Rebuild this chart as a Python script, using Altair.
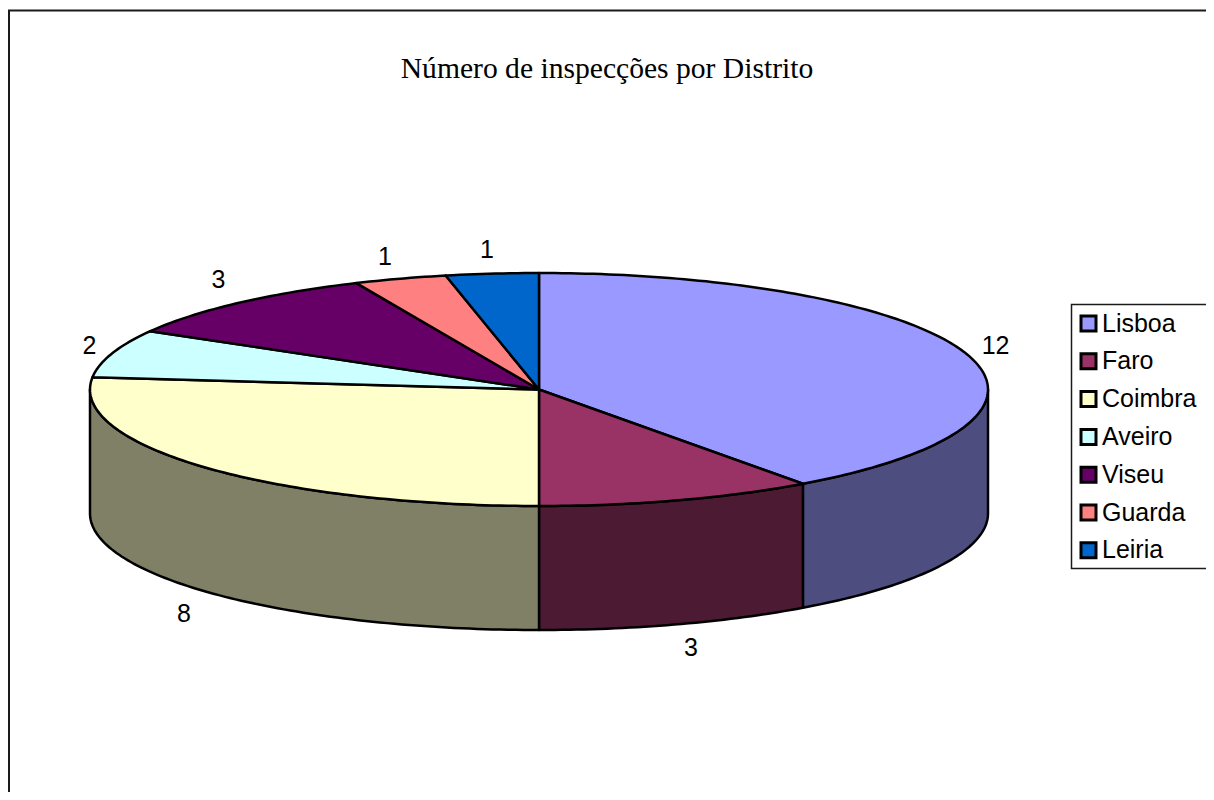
import math
import altair as alt
import pandas as pd

# ---- data ----
districts = ["Lisboa", "Faro", "Coimbra", "Aveiro", "Viseu", "Guarda", "Leiria"]
inspections = [12, 3, 8, 2, 3, 1, 1]
top_colors = ["#9999FF", "#993366", "#FFFFCC", "#CCFFFF", "#660066", "#FF8080", "#0066CC"]
side_colors = ["#4D4D80", "#4D1A33", "#808066", "#668080", "#330033", "#804040", "#003366"]
title_text = "Número de inspecções por Distrito"

# ---- layout of the tilted pie, in page pixels ----
W, H = 1198, 784
CX, CY, RX, RY, DEPTH = 539, 389.5, 449, 116.5, 124
FONT = "Liberation Sans"
NUDGE_X = [1, 4, 1, 6, 0, -6, -2]
NUDGE_Y = [0, 0, 6, 0, -4, 2, 1]


def pt(deg, drop=0.0):
    a = math.radians(deg)
    return CX + RX * math.sin(a), CY - RY * math.cos(a) + drop


total = sum(inspections)
top_rows, side_rows, label_rows = [], [], []
start = 0.0
for j, (name, v, tc, sc) in enumerate(zip(districts, inspections, top_colors, side_colors)):
    end = start + 360.0 * v / total
    # top wedge
    n = max(2, int(end - start) + 1)
    idx = 0
    top_rows.append({"d": name, "x": CX, "y": CY, "i": idx})
    for k in range(n + 1):
        idx += 1
        x, y = pt(start + (end - start) * k / n)
        top_rows.append({"d": name, "x": x, "y": y, "i": idx})
    # visible wall
    s2, e2 = max(start, 90.0), min(end, 270.0)
    if e2 > s2:
        m = max(2, int(e2 - s2) + 1)
        arc = [s2 + (e2 - s2) * k / m for k in range(m + 1)]
        idx = 0
        for a in arc:
            x, y = pt(a)
            side_rows.append({"d": name, "c": sc, "x": x, "y": y, "i": idx})
            idx += 1
        for a in reversed(arc):
            x, y = pt(a, DEPTH)
            side_rows.append({"d": name, "c": sc, "x": x, "y": y, "i": idx})
            idx += 1
    # value label, just outside the rim at the slice's middle angle
    mid = (start + end) / 2
    lx, ly = pt(mid, DEPTH if 90 < mid < 270 else 0)
    a = math.radians(mid)
    label_rows.append({
        "x": lx + 30 * math.sin(a) + NUDGE_X[j],
        "y": ly - 25 * math.cos(a) + NUDGE_Y[j],
        "t": str(v),
    })
    start = end

xs = alt.Scale(domain=[8, 8 + W], nice=False, zero=False)
ys = alt.Scale(domain=[8 + H, 8], nice=False, zero=False)
X = alt.X("x:Q", scale=xs, axis=None)
Y = alt.Y("y:Q", scale=ys, axis=None)

frame_rows = pd.DataFrame([
    {"x": 8, "y": 10.5, "x2": 1230, "y2": 10.5},
    {"x": 9, "y": 10.5, "x2": 9, "y2": 815},
])
frame = alt.Chart(frame_rows).mark_rule(color="#1a1a1a", strokeWidth=2, clip=False).encode(
    x=X, y=Y, x2="x2:Q", y2="y2:Q"
)

legend_box = alt.Chart(pd.DataFrame([{"x": 1071.5, "x2": 1240, "y": 304.5, "y2": 568.5}])).mark_rect(
    fill="white", stroke="#1a1a1a", strokeWidth=1.5
).encode(x=X, x2="x2:Q", y=Y, y2="y2:Q")

sides = alt.Chart(pd.DataFrame(side_rows)).mark_line(
    interpolate="linear-closed", stroke="black", strokeWidth=2.5, strokeJoin="round"
).encode(
    x=X, y=Y, order="i:Q", detail="d:N",
    fill=alt.Fill("c:N", scale=None, legend=None),
)

tops = alt.Chart(pd.DataFrame(top_rows)).mark_line(
    interpolate="linear-closed", stroke="black", strokeWidth=2.5, strokeJoin="round"
).encode(
    x=X, y=Y, order="i:Q",
    fill=alt.Fill(
        "d:N",
        sort=districts,
        scale=alt.Scale(domain=districts, range=top_colors),
        legend=alt.Legend(
            title=None, orient="none", legendX=1059, legendY=294,
            symbolType="square", symbolSize=225, symbolStrokeColor="black",
            symbolStrokeWidth=3, symbolOpacity=1,
            labelFont=FONT, labelFontSize=25, labelColor="black", labelLimit=200,
            labelOffset=1, rowPadding=10.8, padding=9, fillColor="transparent",
            strokeColor="transparent",
        ),
    ),
)

labels = alt.Chart(pd.DataFrame(label_rows)).mark_text(
    font=FONT, fontSize=25, color="black", align="center", baseline="middle"
).encode(x=X, y=Y, text="t:N")

chart = alt.layer(frame, legend_box, sides, tops, labels).resolve_scale(fill="independent").properties(
    width=W, height=H,
    padding=0,
    autosize=alt.AutoSizeParams(type="none"),
    title=alt.TitleParams(
        title_text, font="Liberation Serif", fontSize=29.6, fontWeight="normal", color="black",
        anchor="middle", frame="group", dx=0, dy=81,
    ),
).configure_view(stroke=None).configure_axis(grid=False)

chart.save("out.html", embed_options={"renderer": "svg", "actions": False})
